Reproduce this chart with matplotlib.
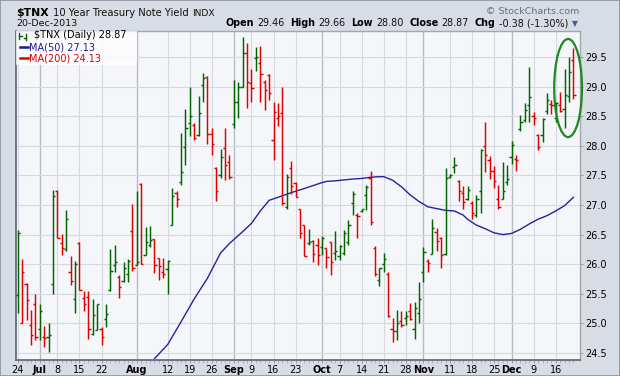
import matplotlib
matplotlib.use("Agg")
import matplotlib.pyplot as plt
from matplotlib.patches import Ellipse, Rectangle
from matplotlib.lines import Line2D
import numpy as np

# ---------------- data ----------------
symbol = "$TNX"
name = "10 Year Treasury Note Yield"
exchange = "INDX"
date_str = "20-Dec-2013"

opens = [25.48, 25.01, 25.67, 24.97, 25.32, 24.90, 24.77, 24.77, 25.67, 27.24,
         26.35, 26.26, 25.86, 25.41, 26.36, 25.42, 25.45, 24.81, 24.89, 24.90,
         25.08, 25.56, 25.98, 25.79, 25.71, 25.84, 26.56, 25.99, 27.35, 26.16,
         26.32, 26.42, 26.10, 25.87, 25.91, 26.67, 27.21, 27.39, 27.99, 28.38,
         28.36, 28.19, 29.03, 29.17, 28.21, 27.62, 27.50, 27.97, 27.73, 28.37,
         28.75, 29.00, 29.57, 29.06, 29.48, 29.40, 29.08, 29.20, 28.10, 28.48,
         28.55, 26.97, 27.62, 27.38, 26.93, 26.66, 26.35, 26.39, 26.32, 26.29,
         26.27, 26.37, 26.19, 26.13, 26.19, 26.38, 27.03, 26.84, 26.90, 27.17,
         27.46, 26.28, 25.73, 26.01, 25.84, 24.91, 24.87, 25.03, 25.09, 25.21,
         24.90, 25.18, 25.87, 26.05, 26.18, 26.55, 26.44, 26.18, 27.48, 27.65,
         27.41, 27.20, 27.11, 27.03, 26.83, 27.24, 28.00, 27.76, 27.57, 27.11,
         27.11, 27.39, 27.82, 27.78, 28.28, 28.44, 28.69, 28.50, 28.19, 28.19,
         28.59, 28.71, 28.48, 28.70, 28.63, 28.85, 29.46]
highs = [26.58, 26.08, 25.68, 25.22, 25.50, 25.32, 24.95, 25.01, 27.25, 27.26,
         26.51, 26.92, 26.14, 26.05, 26.37, 25.54, 25.54, 25.41, 25.33, 24.94,
         25.32, 26.26, 26.33, 25.81, 26.03, 26.09, 27.02, 27.24, 27.38, 26.63,
         26.64, 26.43, 26.11, 26.11, 26.07, 27.28, 27.23, 28.22, 28.63, 29.00,
         28.38, 28.85, 29.23, 29.18, 28.30, 27.65, 27.95, 28.30, 27.85, 29.12,
         29.09, 29.85, 29.74, 29.31, 29.67, 29.69, 29.12, 29.22, 28.75, 28.73,
         29.00, 27.52, 27.74, 27.39, 26.94, 26.67, 26.60, 26.41, 26.44, 26.48,
         26.28, 26.38, 26.56, 26.33, 26.58, 26.75, 27.24, 26.86, 26.94, 27.34,
         27.58, 26.31, 25.94, 26.19, 25.86, 25.09, 25.22, 25.21, 25.21, 25.34,
         25.36, 25.70, 26.29, 26.09, 26.76, 26.62, 26.46, 27.63, 27.52, 27.81,
         27.42, 27.32, 27.32, 27.06, 27.17, 27.95, 28.41, 27.83, 27.66, 27.34,
         27.72, 27.68, 28.09, 27.85, 28.53, 28.72, 29.34, 28.58, 28.21, 28.47,
         28.89, 28.78, 28.74, 28.92, 29.31, 29.51, 29.66]
lows = [25.17, 25.00, 25.05, 24.64, 24.71, 24.71, 24.60, 24.51, 25.50, 26.44,
        26.15, 26.23, 25.65, 25.18, 25.56, 25.20, 24.73, 24.80, 24.88, 24.64,
        24.94, 25.55, 25.86, 25.43, 25.70, 25.70, 25.89, 25.98, 26.00, 26.15,
        26.29, 25.85, 25.74, 25.76, 25.50, 26.66, 26.96, 27.34, 27.67, 28.16,
        28.10, 28.17, 28.74, 28.03, 27.85, 27.06, 27.45, 27.42, 27.44, 28.31,
        28.47, 28.99, 28.64, 28.75, 29.26, 28.75, 28.61, 28.78, 27.76, 28.33,
        27.00, 26.93, 27.19, 27.13, 26.44, 26.13, 26.32, 26.03, 25.98, 26.15,
        25.94, 25.81, 26.07, 26.07, 26.15, 26.32, 26.84, 26.45, 26.89, 26.92,
        26.66, 25.80, 25.63, 25.87, 25.11, 24.69, 24.71, 24.94, 24.97, 25.05,
        24.73, 25.01, 25.70, 25.87, 26.17, 26.22, 25.94, 26.16, 27.46, 27.54,
        27.06, 26.94, 27.08, 26.77, 26.79, 26.86, 27.56, 27.44, 27.28, 26.94,
        27.10, 27.34, 27.69, 27.58, 28.25, 28.41, 28.41, 28.36, 27.93, 28.06,
        28.54, 28.54, 28.41, 28.57, 28.30, 28.75, 28.80]
closes = [26.52, 25.87, 25.39, 24.80, 24.77, 25.21, 24.75, 24.80, 27.15, 26.45,
          26.27, 26.77, 25.72, 26.00, 25.57, 25.32, 24.90, 25.14, 25.32, 24.77,
          25.15, 25.88, 26.04, 25.61, 25.93, 26.05, 25.93, 26.03, 26.01, 26.37,
          26.41, 25.98, 25.97, 25.84, 26.05, 27.15, 27.11, 27.56, 28.30, 28.50,
          28.13, 28.55, 29.15, 28.20, 28.04, 27.23, 27.82, 27.68, 27.48, 28.75,
          29.00, 29.57, 29.09, 28.98, 29.51, 29.21, 28.95, 28.89, 28.57, 28.51,
          27.03, 27.48, 27.33, 27.14, 26.52, 26.14, 26.38, 26.18, 26.15, 26.45,
          26.12, 26.04, 26.22, 26.30, 26.52, 26.66, 27.19, 26.82, 26.93, 27.31,
          26.71, 25.84, 25.93, 26.09, 25.13, 24.87, 25.00, 24.97, 25.13, 25.08,
          25.26, 25.41, 26.21, 26.02, 26.62, 26.39, 26.15, 27.45, 27.51, 27.68,
          27.24, 27.05, 27.25, 26.86, 27.11, 27.93, 27.85, 27.57, 27.41, 26.97,
          27.23, 27.44, 28.01, 27.77, 28.41, 28.61, 28.83, 28.47, 27.99, 28.45,
          28.78, 28.70, 28.72, 28.59, 28.86, 29.25, 28.87]

# 50-day moving average (trading-day index, value)
ma50_days = [31, 34, 37, 40, 43, 46, 48, 51, 53, 55, 57, 59, 62, 65, 69, 70, 72, 76,
             78, 80, 82, 83, 85, 87, 89, 91, 93, 95, 97, 99, 101, 102, 104, 106,
             108, 110, 112, 114, 116, 118, 120, 122, 124, 126]
ma50_vals = [24.40, 24.64, 25.02, 25.41, 25.76, 26.19, 26.35, 26.55, 26.69, 26.90,
             27.08, 27.13, 27.21, 27.28, 27.38, 27.40, 27.41, 27.44, 27.45, 27.47,
             27.48, 27.48, 27.42, 27.31, 27.17, 27.06, 26.97, 26.94, 26.91, 26.90,
             26.83, 26.76, 26.66, 26.60, 26.53, 26.50, 26.52, 26.59, 26.68, 26.76,
             26.82, 26.90, 26.99, 27.13]
ma200_last = 24.13

tick_days = [0, 5, 9, 14, 19, 27, 34, 39, 44, 49, 53, 58, 63, 69, 73, 78, 83, 88,
             92, 98, 103, 108, 112, 117, 122]
tick_labels = ["24", "Jul", "8", "15", "22", "Aug", "12", "19", "26", "Sep", "9",
               "16", "23", "Oct", "7", "14", "21", "28", "Nov", "11", "18", "25",
               "Dec", "9", "16"]
y_ticks = [24.5, 25.0, 25.5, 26.0, 26.5, 27.0, 27.5, 28.0, 28.5, 29.0, 29.5]

# ---------------- figure ----------------
plt.rcParams['font.family'] = ['DejaVu Sans']
W, H = 620, 376
fig = plt.figure(figsize=(W / 100, H / 100), dpi=100)
fig.patch.set_facecolor('#d8dce5')
fig.patches.append(Rectangle((0, 0), 1, 1, transform=fig.transFigure, fill=False,
                             edgecolor='#8c929e', lw=1.2))

L, R, T, B = 16, 580, 31, 360
ax = fig.add_axes([L / W, 1 - B / H, (R - L) / W, (B - T) / H])
ax.set_facecolor('#f4f6fa')

n = len(closes)
days = np.arange(n)
o = np.array(opens); h = np.array(highs); l = np.array(lows); c = np.array(closes)
prev = np.concatenate([[o[0]], c[:-1]])
up = c >= prev
GREEN, RED = '#006400', '#e00000'
cols = [GREEN if u else RED for u in up]

ax.vlines(days, l, h, colors=cols, lw=1.05, zorder=3)
ax.hlines(o, days - 0.5, days, colors=cols, lw=1.05, zorder=3)
ax.hlines(c, days, days + 0.5, colors=cols, lw=1.05, zorder=3)

ax.plot(ma50_days, ma50_vals, color='#23239c', lw=1.0, zorder=2)

# highlight ellipse around the last three bars
last3 = slice(n - 3, n)
ey_top, ey_bot = h[last3].max(), l[last3].min()
ell = Ellipse((days[last3].mean() - 0.2, (ey_top + ey_bot) / 2), width=6.3,
              height=(ey_top - ey_bot) + 0.3, fill=False, edgecolor='#1f8a1f',
              lw=1.6, clip_on=False, zorder=4)
ax.add_patch(ell)

ax.set_xlim(-0.4, 127.5)
ax.set_ylim(24.378, 29.945)

# grid
for d, lab in zip(tick_days, tick_labels):
    month = lab.isalpha()
    ax.axvline(d, color='#b7bbc4' if month else '#d6d9e0', lw=1.0 if month else 0.8,
               zorder=0)
for yv in y_ticks:
    ax.axhline(yv, color='#d6d9e0', lw=0.8, zorder=0)

ax.set_xticks(tick_days)
ax.set_xticklabels(tick_labels)
for tl, lab in zip(ax.get_xticklabels(), tick_labels):
    if lab.isalpha():
        tl.set_fontweight('bold')
ax.set_xticks(days, minor=True)
ax.tick_params(axis='x', which='major', length=2.5, width=0.6, color='#8a909c',
               labelsize=7, pad=0.8)
ax.tick_params(axis='x', which='minor', length=2, width=0.5, color='#9aa0ac')

ax.yaxis.tick_right()
ax.set_yticks(y_ticks)
ax.set_yticklabels([f"{v:.1f}" for v in y_ticks])
ax.tick_params(axis='y', length=2, width=0.6, color='#8a909c', labelsize=7, pad=2)

for side in ['left', 'bottom']:
    ax.spines[side].set_color('#666c7a')
    ax.spines[side].set_linewidth(1.3)
for side in ['top', 'right']:
    ax.spines[side].set_color('#a2a7b2')
    ax.spines[side].set_linewidth(1.0)

# ---------------- text ----------------
renderer = fig.canvas.get_renderer()


def run_text(x_px, y_px, parts, align='left'):
    """parts: list of (text, size, weight, color, gap_after_px)."""
    objs = []
    total = 0
    for s, size, weight, color, gap in parts:
        t = fig.text(0, 0, s, transform=None, fontsize=size, fontweight=weight,
                     color=color, va='baseline', ha='left')
        w = t.get_window_extent(renderer).width
        objs.append((t, w, gap))
        total += w + gap
    x = x_px - total if align == 'right' else x_px
    for t, w, gap in objs:
        t.set_position((x, H - y_px))
        x += w + gap
    return x


run_text(16, 15.5, [(symbol, 7.8, 'bold', 'black', 4),
                    (name, 7.2, 'normal', '#111111', 4),
                    (exchange, 6.6, 'normal', '#111111', 0)])
fig.text(16 / W, 1 - 26.5 / H, date_str, fontsize=6.8, va='baseline', color='#111111')

chg = c[-1] - c[-2]
pct = chg / c[-2] * 100
FS = 6.9
hdr = [("Open", FS, 'bold', 'black', 3), (f"{o[-1]:.2f}", FS, 'normal', '#111111', 6),
       ("High", FS, 'bold', 'black', 3), (f"{h[-1]:.2f}", FS, 'normal', '#111111', 6),
       ("Low", FS, 'bold', 'black', 3), (f"{l[-1]:.2f}", FS, 'normal', '#111111', 6),
       ("Close", FS, 'bold', 'black', 3), (f"{c[-1]:.2f}", FS, 'normal', '#111111', 6),
       ("Chg", FS, 'bold', 'black', 3),
       (f"{chg:.2f} ({pct:.2f}%)", FS, 'normal', '#111111', 0)]
run_text(568, 26.5, hdr, align='right')
fig.text(572 / W, 1 - 26.5 / H, "\u25BC", fontsize=5.5, color='#3a5c9c', va='baseline')
fig.text(579 / W, 1 - 13.5 / H, "\u00A9 StockCharts.com", fontsize=6.8, color='#6a6e76',
         va='baseline', ha='right')

# legend box inside plot
ax.add_patch(Rectangle((L / W, 1 - 65 / H), 121 / W, 34 / H, transform=fig.transFigure,
                       facecolor='white', edgecolor='none', alpha=0.75, zorder=5))
leg_rows = [(f"{symbol} (Daily) {c[-1]:.2f}", 'black', 34, 38.5),
            (f"MA(50) {ma50_vals[-1]:.2f}", '#1c1c8c', 29.5, 50.0),
            (f"MA(200) {ma200_last:.2f}", '#dd0000', 29.5, 61.5)]
for s, col, xp, yp in leg_rows:
    fig.text(xp / W, 1 - yp / H, s, fontsize=7, color=col, va='baseline', zorder=6)
# legend icons
fig.lines.append(Line2D([19.5 / W, 19.5 / W], [1 - 33 / H, 1 - 39 / H],
                        transform=fig.transFigure, color=GREEN, lw=1.0))
fig.lines.append(Line2D([19.5 / W, 21.5 / W], [1 - 36 / H, 1 - 36 / H],
                        transform=fig.transFigure, color=GREEN, lw=1.0))
fig.lines.append(Line2D([25.5 / W, 25.5 / W], [1 - 34 / H, 1 - 40 / H],
                        transform=fig.transFigure, color=GREEN, lw=1.0))
fig.lines.append(Line2D([23.5 / W, 25.5 / W], [1 - 38 / H, 1 - 38 / H],
                        transform=fig.transFigure, color=GREEN, lw=1.0))
fig.lines.append(Line2D([20 / W, 28 / W], [1 - 46.5 / H, 1 - 46.5 / H],
                        transform=fig.transFigure, color='#1c1c8c', lw=1.8))
fig.lines.append(Line2D([20 / W, 28 / W], [1 - 58 / H, 1 - 58 / H],
                        transform=fig.transFigure, color='#dd0000', lw=1.8))

fig.savefig("out.png", dpi=100, facecolor=fig.get_facecolor())
